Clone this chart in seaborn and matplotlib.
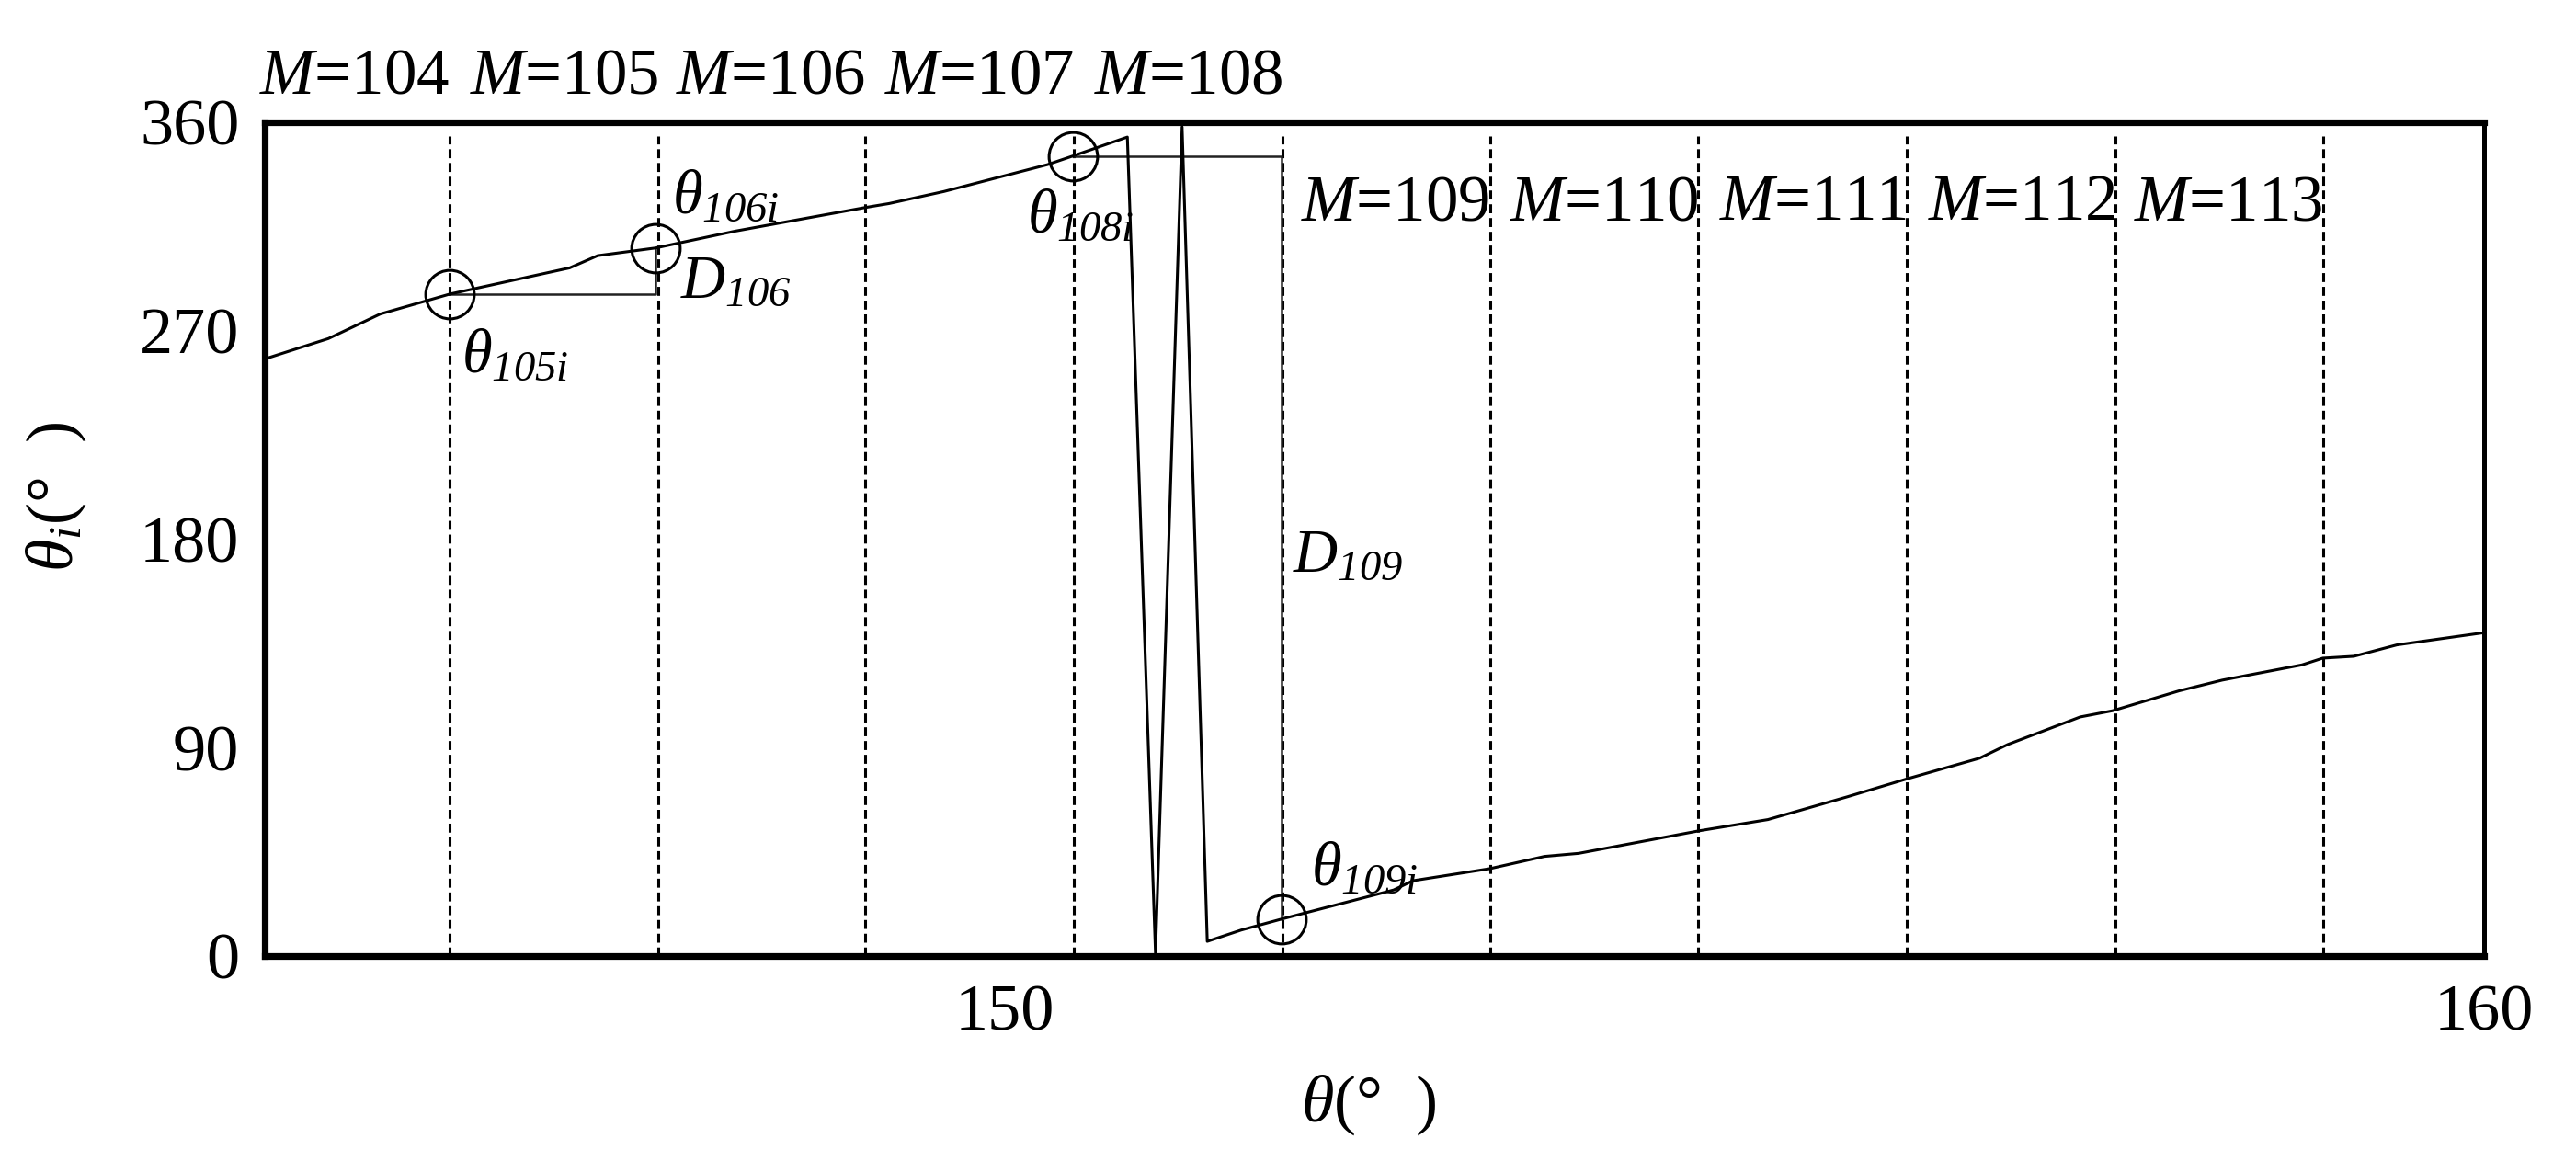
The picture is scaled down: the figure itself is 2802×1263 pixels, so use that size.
import numpy as np
import pandas as pd
import seaborn as sns
import matplotlib.pyplot as plt

# curve theta_i against theta
theta = [145.00, 145.43, 145.78, 146.25, 147.06, 147.25, 147.64, 148.18,
         149.05, 149.22, 149.59, 150.29, 150.46, 150.83,
         151.02, 151.20, 151.37, 151.60, 151.87,
         152.63, 152.76, 153.28, 153.65, 153.88, 154.69, 155.16, 155.70,
         156.09, 156.59, 156.78, 157.27, 157.49, 157.94, 158.23, 158.77,
         158.91, 159.12, 159.41, 160.00]
theta_i = [257.8, 266.6, 277.2, 285.8, 297.1, 302.4, 305.7, 313.0,
           323.1, 324.9, 330.1, 341.7, 345.4, 353.6,
           1.0, 358.0, 6.3, 11.2, 15.9,
           28.5, 32.5, 37.7, 43.0, 44.3, 54.0, 58.9, 68.8,
           76.3, 85.4, 91.3, 103.2, 105.9, 114.5, 119.1, 125.7,
           128.6, 129.4, 134.3, 139.6]

# dashed boundaries and their M labels
m_pos = [146.25, 147.66, 149.06, 150.47, 151.88, 153.28, 154.69, 156.10, 157.51, 158.91]
m_labels = [104, 105, 106, 107, 108, 109, 110, 111, 112, 113]

# marked points (circles)
mark_x = [146.25, 147.64, 150.46, 151.87]
mark_y = [285.8, 305.7, 345.4, 15.9]

df = pd.DataFrame({"theta": theta, "theta_i": theta_i})

sns.set_theme(style="white")
plt.rcParams["font.family"] = ["Liberation Serif", "DejaVu Serif"]
plt.rcParams["text.color"] = "black"
plt.rcParams["axes.labelcolor"] = "black"
plt.rcParams["mathtext.fontset"] = "custom"
# math is only used for symbols and subscripts, which are italic in the figure
plt.rcParams["mathtext.rm"] = "Liberation Serif:italic"
plt.rcParams["mathtext.it"] = "Liberation Serif:italic"

fig = plt.figure(figsize=(14.01, 6.315), dpi=200)
ax = fig.add_axes([0.1028, 0.1766, 0.8615, 0.7181])

# dashed M boundaries
for x in m_pos:
    ax.plot([x, x], [0, 354], color="black", lw=1.1, ls=(0, (3.2, 1.7)), zorder=1)

sns.lineplot(data=df, x="theta", y="theta_i", sort=False, estimator=None,
             color="black", lw=1.1, ax=ax, zorder=3)

# D106 and D109 construction lines
ax.plot([mark_x[0], mark_x[1], mark_x[1]], [mark_y[0], mark_y[0], mark_y[1]],
        color="#222222", lw=0.9, zorder=2)
ax.plot([mark_x[2], mark_x[3], mark_x[3]], [mark_y[2], mark_y[2], mark_y[3]],
        color="#222222", lw=0.9, zorder=2)

ax.plot(mark_x, mark_y, ls="none", marker="o", ms=19, mfc="none",
        mec="black", mew=1.1, zorder=4)

# M labels, top row above the frame, second row inside
for i, (x, m) in enumerate(zip(m_pos, m_labels)):
    y = 372.4 if i < 5 else 317.8
    ax.text(x, y, r"$M$=%d" % m, ha="right", va="baseline", fontsize=25.5)

fs = 24
ax.text(146.33, 252.2, r"$\theta_{105i}$", fontsize=fs, va="baseline")
ax.text(147.75, 320.8, r"$\theta_{106i}$", fontsize=fs, va="baseline")
ax.text(147.81, 284.5, r"$D_{106}$", fontsize=fs, va="baseline")
ax.text(150.15, 312.3, r"$\theta_{108i}$", fontsize=fs, va="baseline")
ax.text(151.95, 165.9, r"$D_{109}$", fontsize=fs, va="baseline")
ax.text(152.07, 30.6, r"$\theta_{109i}$", fontsize=fs, va="baseline")

ax.set_xlim(145, 160)
ax.set_ylim(0, 360)
ax.set_xticks([150, 160])
ax.set_yticks([0, 90, 180, 270, 360])
ax.tick_params(axis="both", direction="in", length=7, width=2.4,
               labelsize=26, color="black", labelcolor="black")
ax.tick_params(axis="x", pad=11)
ax.tick_params(axis="y", pad=10)

for side in ["left", "top", "bottom"]:
    ax.spines[side].set_linewidth(2.6)
    ax.spines[side].set_color("black")
ax.spines["right"].set_linewidth(1.8)
ax.spines["right"].set_color("black")

ax.set_xlabel(r"$\theta$(°  )", fontsize=26)
ax.set_ylabel(r"$\theta_i$(°  )", fontsize=26)
ax.xaxis.set_label_coords(0.4975, -0.14)
ax.xaxis.label.set_va("top")
ax.yaxis.set_label_coords(-0.094, 0.551)
ax.yaxis.label.set_va("center")

fig.savefig("out.png", dpi=200)
